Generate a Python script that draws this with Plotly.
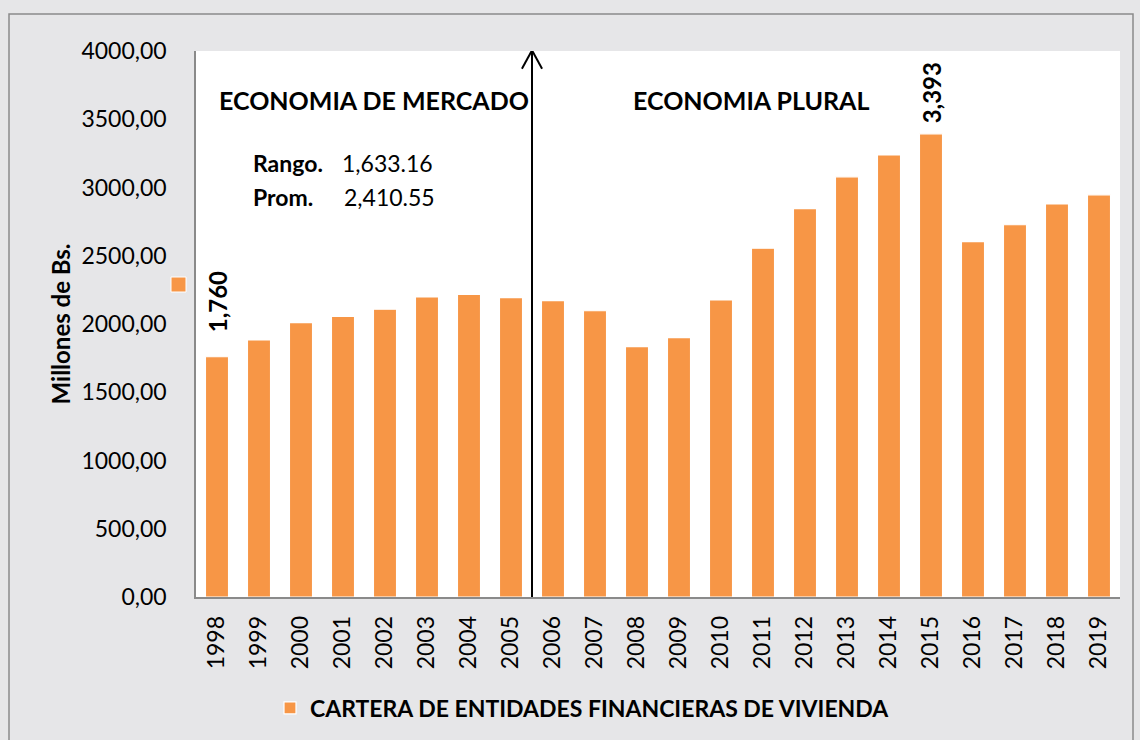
import plotly.graph_objects as go

years = [str(y) for y in range(1998, 2020)]
cartera = [1760, 1883, 2010, 2056, 2108, 2198, 2217, 2193, 2171, 2097, 1834,
           1900, 2176, 2555, 2845, 3078, 3238, 3393, 2603, 2727, 2879, 2946]
y_ticks = [0, 500, 1000, 1500, 2000, 2500, 3000, 3500, 4000]
y_tick_text = ["0,00", "500,00", "1000,00", "1500,00", "2000,00", "2500,00",
               "3000,00", "3500,00", "4000,00"]
series_name = "CARTERA DE ENTIDADES FINANCIERAS DE VIVIENDA"
labelled = {"1998": ("1,760", 22), "2015": ("3,393", 8)}
divider_after = "2005"

ORANGE = "#F79646"
FONT = "Lato"

# plot-area geometry in pixels (for paper conversions of decorations)
L, R, T, B = 196, 1120, 51, 597
W, H = R - L, B - T


def px(x):
    return (x - L) / W


def py(y):
    return (B - y) / H


xpos = list(range(len(years)))

fig = go.Figure()
fig.add_trace(go.Bar(
    x=xpos, y=cartera, name=f"<b>{series_name}</b>", width=0.55,
    marker=dict(color=ORANGE, line=dict(color="white", width=1.2)),
    showlegend=True,
))

annotations = []
for yr, (txt, shift) in labelled.items():
    i = years.index(yr)
    annotations.append(dict(
        x=i, y=cartera[i], xref="x", yref="y", text=f"<b>{txt}</b>",
        textangle=-90, showarrow=False, yanchor="bottom", yshift=shift,
        font=dict(family=FONT, size=24, color="black"),
    ))

annotations += [
    dict(x=px(217), y=py(100), xref="paper", yref="paper", xanchor="left",
         yanchor="middle", showarrow=False, text="<b>ECONOMIA DE MERCADO</b>",
         font=dict(family=FONT, size=25, color="black")),
    dict(x=px(631), y=py(100), xref="paper", yref="paper", xanchor="left",
         yanchor="middle", showarrow=False, text="<b>ECONOMIA PLURAL</b>",
         font=dict(family=FONT, size=25, color="black")),
    dict(x=px(251), y=py(163), xref="paper", yref="paper", xanchor="left",
         yanchor="middle", showarrow=False, text="<b>Rango.</b>",
         font=dict(family=FONT, size=23, color="black")),
    dict(x=px(340), y=py(163), xref="paper", yref="paper", xanchor="left",
         yanchor="middle", showarrow=False, text="1,633.16",
         font=dict(family=FONT, size=23, color="black")),
    dict(x=px(251), y=py(197), xref="paper", yref="paper", xanchor="left",
         yanchor="middle", showarrow=False, text="<b>Prom.</b>",
         font=dict(family=FONT, size=23, color="black")),
    dict(x=px(342), y=py(197), xref="paper", yref="paper", xanchor="left",
         yanchor="middle", showarrow=False, text="2,410.55",
         font=dict(family=FONT, size=23, color="black")),
]

dx = years.index(divider_after) + 0.5
shapes = [
    # outer frame
    dict(type="rect", xref="paper", yref="paper", x0=px(9), x1=px(1133),
         y0=py(745), y1=py(14), line=dict(color="#8a8a8a", width=1.5),
         layer="below"),
    # stray legend key at left
    dict(type="rect", xref="paper", yref="paper", x0=px(171), x1=px(186),
         y0=py(292), y1=py(277), fillcolor=ORANGE,
         line=dict(color="white", width=1)),
    # divider arrow
    dict(type="line", xref="x", yref="y", x0=dx, x1=dx, y0=0, y1=4005,
         line=dict(color="black", width=2)),
    dict(type="line", xref="x", yref="y", x0=dx - 0.24, x1=dx,
         y0=4005 - 135, y1=4005, line=dict(color="black", width=2)),
    dict(type="line", xref="x", yref="y", x0=dx + 0.24, x1=dx,
         y0=4005 - 135, y1=4005, line=dict(color="black", width=2)),
]

fig.update_layout(
    width=1140, height=740,
    margin=dict(l=L, r=1140 - R, t=T, b=740 - B, autoexpand=False),
    paper_bgcolor="#e6e6e8", plot_bgcolor="white",
    font=dict(family=FONT, color="black"),
    bargap=0.45,
    xaxis=dict(range=[-0.5, len(years) - 0.5], tickvals=xpos, ticktext=years,
               tickangle=-90, showgrid=False, zeroline=False,
               showline=True, linecolor="#8a8a8a", linewidth=1.5,
               ticks="", ticklabelstandoff=8,
               tickfont=dict(family=FONT, size=23, color="black")),
    yaxis=dict(range=[0, 4000], tickvals=y_ticks, ticktext=y_tick_text,
               showgrid=False, zeroline=False, showline=True,
               linecolor="#8a8a8a", linewidth=1.5, ticks="",
               ticklabelstandoff=23,
               tickfont=dict(family=FONT, size=23, color="black"),
               title=dict(text="<b>Millones de Bs.</b>", standoff=4,
                          font=dict(family=FONT, size=24, color="black"))),
    legend=dict(orientation="h", x=px(270), xanchor="left", y=py(708),
                yanchor="middle", bgcolor="rgba(0,0,0,0)",
                font=dict(family=FONT, size=23, color="black"),
                itemwidth=30),
    annotations=annotations,
    shapes=shapes,
)

fig.write_html(
    "out.html",
    config={"displayModeBar": False},
    post_script="document.body.style.margin='0';document.body.style.padding='0';",
)
